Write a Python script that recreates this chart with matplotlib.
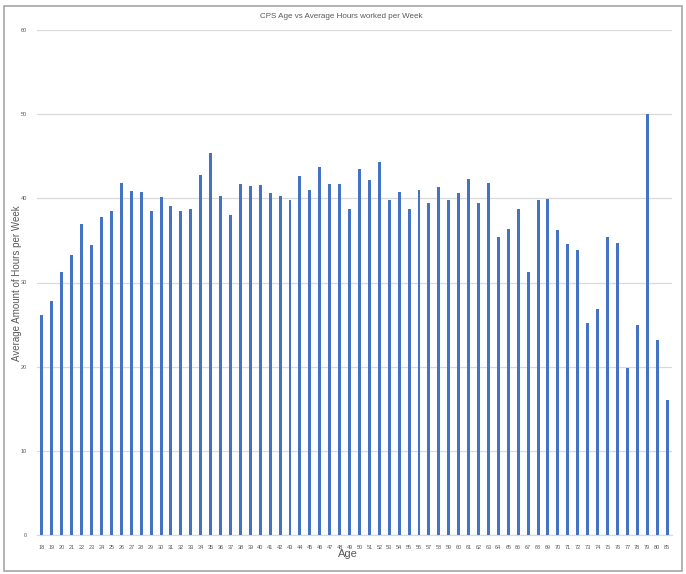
import matplotlib
matplotlib.use("Agg")
import matplotlib.pyplot as plt
from matplotlib.patches import Rectangle

ages = [str(a) for a in range(18, 81)] + ["85"]
hours = [26.1, 27.8, 31.2, 33.3, 36.9, 34.4, 37.8, 38.5, 41.8, 40.9,
         40.8, 38.5, 40.2, 39.1, 38.5, 38.7, 42.8, 45.4, 40.3, 38.0,
         41.7, 41.5, 41.6, 40.6, 40.3, 39.8, 42.7, 41.0, 43.7, 41.7,
         41.7, 38.7, 43.5, 42.2, 44.3, 39.8, 40.8, 38.7, 41.0, 39.4,
         41.4, 39.8, 40.6, 42.3, 39.4, 41.8, 35.4, 36.3, 38.7, 31.2,
         39.8, 39.9, 36.2, 34.6, 33.9, 25.2, 26.9, 35.4, 34.7, 19.9,
         24.9, 50.0, 23.2, 16.0]
yticks = [0, 10, 20, 30, 40, 50, 60]

txt = "#595959"
grid = "#D9D9D9"

plt.rcParams['font.family'] = ['Liberation Sans', 'DejaVu Sans']
fig = plt.figure(figsize=(6.86, 5.74), dpi=100)
ax = fig.add_axes([37/686, 39/574, 635/686, 505/574])

x = range(len(ages))
ax.bar(x, hours, width=0.3, color="#4472C4", zorder=3)

ax.set_xlim(-0.5, len(ages) - 0.5)
ax.set_ylim(0, 60)
ax.set_yticks(yticks)
ax.set_xticks(list(x))
ax.set_xticklabels(ages)
ax.tick_params(axis="both", length=0, labelsize=4, labelcolor=txt)
ax.tick_params(axis="x", pad=7)
ax.tick_params(axis="y", pad=7)
ax.yaxis.grid(True, color=grid, linewidth=0.9, zorder=0)
for s in ["top", "right", "left"]:
    ax.spines[s].set_visible(False)
ax.spines["bottom"].set_color(grid)
ax.spines["bottom"].set_linewidth(0.9)

fig.text(341/686, 1 - 16/574, "CPS Age vs Average Hours worked per Week",
         ha="center", va="center", fontsize=5.8, color=txt)
fig.text(348/686, 1 - 554/574, "Age", ha="center", va="center",
         fontsize=8, color=txt)
fig.text(17/686, 1 - 283/574, "Average Amount of Hours per Week",
         ha="center", va="center", rotation=90, fontsize=7, color=txt)

# chart frame
fig.patches.append(Rectangle((4/686, 3/574), 678/686, 565/574,
                             transform=fig.transFigure, fill=False,
                             edgecolor="#A6A6A6", linewidth=1.2))

fig.savefig("out.png", dpi=100)
